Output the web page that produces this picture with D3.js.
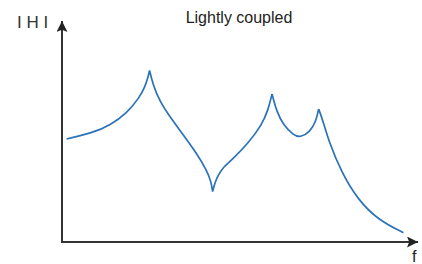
<!DOCTYPE html>
<html>
<head>
  <meta charset="UTF-8">
  <title>Lightly coupled</title>
  <script src="https://d3js.org/d3.v7.min.js"></script>
  <style>
    body { margin: 0; background: #fff; }
    svg { display: block; font-family: "Liberation Sans", Arial, sans-serif; }
  </style>
</head>
<body>
  <svg width="422" height="264"></svg>
  <script>
    // frequency (0-100) and |H| (0-100)
    const freqs = [1.3, 8.8, 13.5, 18.2, 21.9, 23.3, 24.1, 24.6,
                   25.6, 27.5, 30.3, 34.1, 37.8, 40.6, 41.9, 42.3,
                   43.0, 43.9, 45.3, 47.7, 52.3, 56.1, 57.9, 59.0,
                   60.3, 62.2, 65.0, 66.9, 69.7, 71.3, 72.1,
                   73.4, 74.8, 78.6, 83.2, 88.8, 95.9];
    const magnitude = [46.6, 49.5, 52.9, 58.2, 65.7, 70.3, 74.1, 77.6,
                       71.0, 63.5, 56.7, 48.4, 40.1, 32.6, 27.3, 22.8,
                       27.1, 30.3, 33.9, 37.1, 44.7, 52.9, 59.7, 67.0,
                       59.0, 52.9, 48.4, 47.2, 49.9, 54.4, 60.2,
                       54.4, 46.2, 31.1, 19.0, 10.0, 4.2];
    // indices where the curve has a sharp point
    const cusps = [7, 15, 23, 30];

    const svg = d3.select("svg");
    const x = d3.scaleLinear().domain([0, 100]).range([62, 418]);
    const y = d3.scaleLinear().domain([0, 100]).range([242, 21]);

    const defs = svg.append("defs");
    defs.append("marker")
      .attr("id", "arrow")
      .attr("viewBox", "0 -5 10 10")
      .attr("refX", 10)
      .attr("refY", 0)
      .attr("markerUnits", "userSpaceOnUse")
      .attr("markerWidth", 14)
      .attr("markerHeight", 11)
      .attr("orient", "auto")
      .append("path")
      .attr("d", "M0,-5L10,0L0,5L2,0Z")
      .attr("fill", "#222");

    // axes
    svg.append("line")
      .attr("x1", x(0)).attr("y1", y(0))
      .attr("x2", x(0)).attr("y2", y(100))
      .attr("stroke", "#333").attr("stroke-width", 2)
      .attr("marker-end", "url(#arrow)");
    svg.append("line")
      .attr("x1", x(0) - 1).attr("y1", y(0))
      .attr("x2", x(100)).attr("y2", y(0))
      .attr("stroke", "#333").attr("stroke-width", 2)
      .attr("marker-end", "url(#arrow)");

    // split into segments at the cusps
    const pts = freqs.map((f, i) => [f, magnitude[i]]);
    const bounds = [0, ...cusps, pts.length - 1];
    const segments = [];
    for (let i = 0; i < bounds.length - 1; i++) {
      segments.push(pts.slice(bounds[i], bounds[i + 1] + 1));
    }

    const line = d3.line()
      .x(d => x(d[0]))
      .y(d => y(d[1]))
      .curve(d3.curveBasis);

    svg.append("path")
      .attr("d", segments.map(s => line(s)).join(""))
      .attr("fill", "none")
      .attr("stroke", "#2b72b8")
      .attr("stroke-width", 1.7)
      .attr("stroke-linejoin", "miter");

    svg.append("text")
      .attr("x", 239).attr("y", 23)
      .attr("text-anchor", "middle")
      .attr("font-size", 16)
      .attr("fill", "#222")
      .text("Lightly coupled");

    svg.append("text")
      .attr("x", 17).attr("y", 28)
      .attr("font-size", 17)
      .attr("fill", "#333")
      .text("I H I");

    svg.append("text")
      .attr("x", 412).attr("y", 262)
      .attr("font-size", 16)
      .attr("fill", "#222")
      .text("f");
  </script>
</body>
</html>
